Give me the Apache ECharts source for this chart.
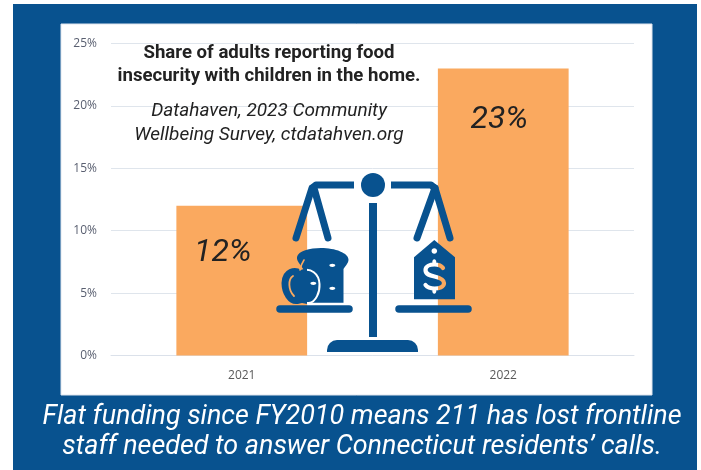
<!DOCTYPE html>
<html><head><meta charset="utf-8">
<style>html,body{margin:0;padding:0;background:#fff}#c{width:701px;height:470px}</style>
<script src="https://cdn.jsdelivr.net/npm/echarts@6/dist/echarts.min.js"></script>
</head><body><div id="c"></div>
<script>
const categories = ['2021', '2022'];
const shares = [12, 23];
const yTicks = [0, 5, 10, 15, 20, 25];
const titleLines = ['Share of adults reporting food', 'insecurity with children in the home.'];
const sourceLines = ['Datahaven, 2023 Community', 'Wellbeing Survey, ctdatahven.org'];
const footerLines = ['Flat funding since FY2010 means 211 has lost frontline', 'staff needed to answer Connecticut residents\u2019 calls.'];

const BLUE = '#08528f', ORANGE = '#faa95f';
const chart = echarts.init(document.getElementById('c'), null, {renderer: 'canvas'});

let shapeCount = 0;
function pathEl(d, style, z) {
  const name = 'iconShape' + (shapeCount++);
  echarts.graphic.registerShape(name, echarts.graphic.extendPath(d, {}));
  return {type: name, z: z, style: style};
}
function txt(text, x, y, font, fill) {
  return {type: 'text', z: 50, style: {text, x, y, font, fill, align: 'center', verticalAlign: 'middle'}};
}
function ln(shape, w, cap) {
  return {type: 'polyline', z: 40, shape: {points: shape},
    style: {stroke: BLUE, lineWidth: w, fill: null, lineCap: cap || 'round', lineJoin: 'round'}};
}
function splitFill(at, left, right) {
  const span = 700, t = at / span;
  return new echarts.graphic.LinearGradient(0, 0, span, 0,
    [{offset: 0, color: left}, {offset: t, color: left}, {offset: t, color: right}, {offset: 1, color: right}], true);
}
function blob(cx, cy, rx, ry, fill) {
  return {type: 'ellipse', z: 43, shape: {cx, cy, rx, ry}, style: {fill}};
}

const graphic = [
  {type: 'rect', z: -5, shape: {x: 13, y: 4, width: 684, height: 466}, style: {fill: BLUE}},
  {type: 'rect', z: -4, shape: {x: 61, y: 24, width: 591, height: 371}, style: {fill: '#fff', stroke: '#dfe5ee', lineWidth: 1}},

  txt(titleLines[0], 269, 53, '700 18.6px Roboto', '#222'),
  txt(titleLines[1], 269, 76, '700 18.6px Roboto', '#222'),
  txt(sourceLines[0], 269, 111, 'italic 400 19px Roboto', '#222'),
  txt(sourceLines[1], 269, 135, 'italic 400 19px Roboto', '#222'),
  txt(footerLines[0], 362, 417, 'italic 400 26.9px Roboto', '#fff'),
  txt(footerLines[1], 362, 447, 'italic 400 26.9px Roboto', '#fff'),

  // balance scale icon
  {type: 'circle', z: 40, shape: {cx: 373, cy: 185, r: 12}, style: {fill: BLUE}},
  {type: 'rect', z: 40, shape: {x: 369, y: 203, width: 8, height: 134}, style: {fill: BLUE}},
  {type: 'rect', z: 40, shape: {x: 327, y: 340, width: 91, height: 12, r: [10, 10, 0, 0]}, style: {fill: BLUE}},
  ln([[354, 185], [316, 185], [311, 189]], 7, 'butt'),
  ln([[391, 185], [431, 185], [436, 189]], 7, 'butt'),
  ln([[312, 188], [296, 238]], 7),
  ln([[314, 188], [328, 238]], 7),
  ln([[435, 188], [417, 238]], 7),
  ln([[435, 188], [450, 238]], 7),
  ln([[280, 309], [349, 309]], 7.5),
  ln([[399, 309], [468, 309]], 7.5),

  // bread
  pathEl('M297 257 C298 251 310 248 321 248 C335 248 349 253 348.5 260 C348 264 345 266 343.5 269 L343.5 302.7 L305 302.7 L304 270 C300 264 296.5 261 297 257 Z', {fill: BLUE}, 41),
  blob(332.3, 265.3, 3, 1.6, '#fff'),
  blob(332.3, 288.3, 3, 1.6, '#fff'),
  // apple
  pathEl('M301 271 C295 267 283 269 282.5 283 C282.5 294 289 303 296 303 C299 303 300 302 302 302 C304 302 306 303 309 303 C316 302 320 292 319.5 284 C319 274 311 267 301 271 Z',
    {fill: BLUE, stroke: splitFill(307, BLUE, '#fff'), lineWidth: 2}, 42),
  pathEl('M293 276 C288 279 288 290 294 296', {fill: null, stroke: ORANGE, lineWidth: 1.8, lineCap: 'round'}, 43),
  pathEl('M300 270 C301 265 302 263 304 260', {fill: null, stroke: ORANGE, lineWidth: 1.6, lineCap: 'round'}, 43),
  blob(313.3, 283.3, 3, 1.6, '#fff'),

  // price tag
  {type: 'polygon', z: 41, shape: {points: [[434.3, 240], [455, 257.3], [455, 299.3], [414, 299.3], [414, 257.3]]}, style: {fill: BLUE}},
  blob(434.3, 251, 2.8, 2.8, splitFill(438, '#fff', ORANGE)),
  pathEl('M443 268 C441 265 438 264.5 434.5 264.5 C430 264.5 425.5 266 425.5 270 C425.5 274.5 430 275.5 434.5 276.5 C439 277.5 444 279 444 283 C444 287 439 288.5 434.5 288.5 C430.5 288.5 427.5 287.5 425.5 285',
    {fill: null, stroke: splitFill(438, '#fff', ORANGE), lineWidth: 4.2, lineCap: 'round'}, 43),
  blob(434.3, 262, 2, 2.8, splitFill(438, '#fff', ORANGE)),
  blob(434.3, 291, 2, 2.8, splitFill(438, '#fff', ORANGE))
];

const labelOffsets = [[-19, 31], [-4, 36]];

chart.setOption({
  animation: false,
  backgroundColor: '#fff',
  grid: {left: 111, right: 67, top: 43.5, bottom: 114.5},
  xAxis: {
    type: 'category', data: categories,
    axisLine: {lineStyle: {color: '#dbe1ea', width: 1}}, axisTick: {show: false},
    axisLabel: {color: '#595959', fontFamily: 'Open Sans', fontSize: 12, margin: 14}
  },
  yAxis: {
    type: 'value', min: 0, max: yTicks[yTicks.length - 1], interval: yTicks[1] - yTicks[0],
    axisLine: {show: false}, axisTick: {show: false},
    splitLine: {lineStyle: {color: '#dfe5ec', width: 1}},
    axisLabel: {color: '#595f70', fontFamily: 'Open Sans', fontSize: 12, margin: 14, formatter: '{value}%'}
  },
  series: [{
    type: 'bar', barWidth: '50%', z: 3,
    itemStyle: {color: ORANGE},
    data: shares.map((v, i) => ({
      value: v,
      label: {show: true, position: 'insideTop', distance: 0, offset: labelOffsets[i],
        formatter: '{c}%', color: '#222', fontFamily: 'Roboto', fontStyle: 'italic', fontSize: 32}
    }))
  }],
  graphic: {elements: graphic}
});
</script></body></html>
